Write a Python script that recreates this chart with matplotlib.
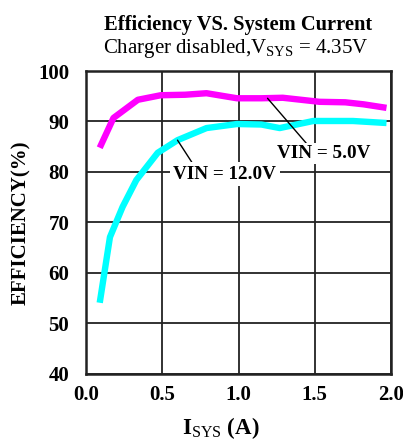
import matplotlib
matplotlib.use("Agg")
import matplotlib.pyplot as plt

plt.rcParams['font.family'] = ['Liberation Serif', 'DejaVu Serif']
plt.rcParams['mathtext.fontset'] = 'custom'
plt.rcParams['mathtext.rm'] = 'Liberation Serif'
plt.rcParams['mathtext.bf'] = 'Liberation Serif:bold'

# data
i5 = [0.09, 0.18, 0.34, 0.49, 0.65, 0.79, 0.99, 1.15, 1.29, 1.53, 1.70, 1.82, 1.97]
eff5 = [84.8, 90.7, 94.3, 95.2, 95.3, 95.6, 94.6, 94.6, 94.7, 93.9, 93.8, 93.4, 92.7]
i12 = [0.09, 0.157, 0.24, 0.33, 0.47, 0.60, 0.79, 0.99, 1.15, 1.27, 1.49, 1.75, 1.97]
eff12 = [54.1, 67.1, 73.1, 78.4, 83.8, 86.3, 88.7, 89.5, 89.4, 88.7, 90.1, 90.1, 89.7]
xticks = [0.0, 0.5, 1.0, 1.5, 2.0]
yticks = [40, 50, 60, 70, 80, 90, 100]

fig = plt.figure(figsize=(4.03, 4.41), dpi=100)
ax = fig.add_axes([0.2134, 0.152, 0.757, 0.687])
ax.plot(i5, eff5, color='#ff00ff', lw=4.6, solid_capstyle='butt', zorder=3)
ax.plot(i12, eff12, color='#00ffff', lw=4.6, solid_capstyle='butt', zorder=3)
ax.set_xlim(0, 2.0)
ax.set_ylim(40, 100)
ax.set_xticks(xticks)
ax.set_xticklabels([f"{v:.1f}" for v in xticks])
ax.set_yticks(yticks)
ax.grid(True, color='#222222', lw=1.3)
ax.set_axisbelow(True)
for s in ax.spines.values():
    s.set_linewidth(1.8)
    s.set_color('#222222')
ax.tick_params(length=0, labelsize=15)
ax.tick_params(axis='y', pad=12)
ax.tick_params(axis='x', pad=8)
for lab in ax.get_xticklabels() + ax.get_yticklabels():
    lab.set_fontweight('bold')

ax.set_ylabel('EFFICIENCY(%)', fontsize=15, fontweight='bold', labelpad=5)
fig.text(0.5484, 0.016, r'$\mathbf{I}_{\mathrm{SYS}}$ (A)', ha='center', va='baseline',
         fontsize=16.5, fontweight='bold')

fig.text(0.590, 0.933, 'Efficiency VS. System Current', ha='center', va='baseline',
         fontsize=14.8, fontweight='bold')
fig.text(0.584, 0.880, r'Charger disabled,V$\mathregular{_{SYS}}$ = 4.35V', ha='center',
         va='baseline', fontsize=15)

# annotations
ax.annotate('VIN = 5.0V', xy=(1.19, 94.6), xytext=(1.56, 83.6), ha='center', va='center',
            fontsize=13.8, fontweight='bold',
            bbox=dict(facecolor='white', edgecolor='none', pad=1.5),
            arrowprops=dict(arrowstyle='-', color='black', lw=1, shrinkA=0, shrinkB=0,
                            relpos=(0.33, 1.0)), zorder=5)
ax.annotate('VIN = 12.0V', xy=(0.6, 86.3), xytext=(0.91, 79.6), ha='center', va='center',
            fontsize=13.8, fontweight='bold',
            bbox=dict(facecolor='white', edgecolor='none', pad=2.5),
            arrowprops=dict(arrowstyle='-', color='black', lw=1, shrinkA=0, shrinkB=0,
                            relpos=(0.2, 1.0)), zorder=5)

fig.savefig('out.png', dpi=100)
